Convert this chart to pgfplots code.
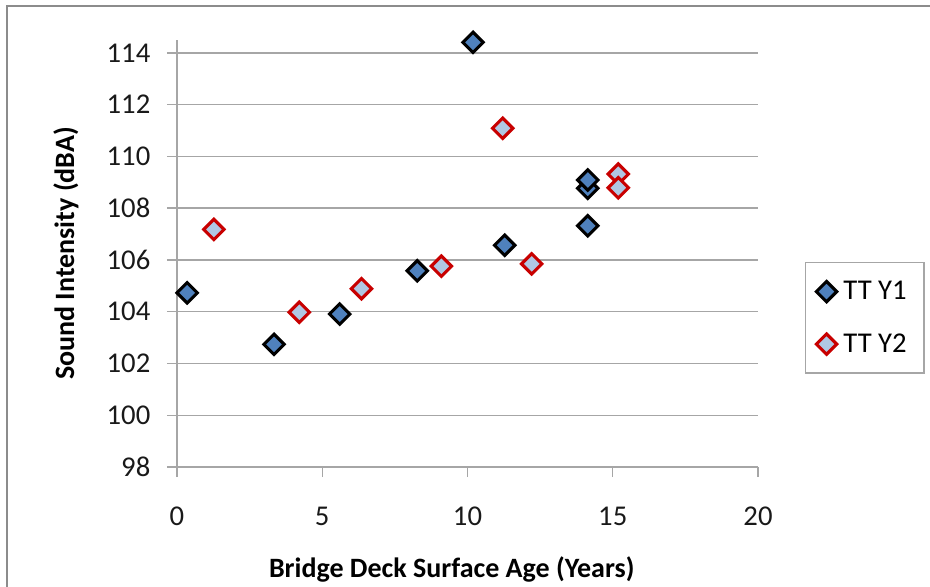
\documentclass[border=0pt]{standalone}
\usepackage{pgfplots}
\pgfplotsset{compat=1.18}
\usepackage{fontspec}
\setmainfont{Carlito}
\definecolor{gridgray}{HTML}{A6A6A6}
\definecolor{bordergray}{HTML}{8C8C8C}
\definecolor{yonefill}{HTML}{4F81BD}
\definecolor{ytwofill}{HTML}{B0C7E3}
\definecolor{ytwoline}{HTML}{C80000}
\begin{document}
\begin{tikzpicture}[x=0.75pt,y=0.75pt]
\useasboundingbox (-177,-119) rectangle (753,467);
\draw[bordergray,line width=1.5pt] (-170,-300) -- (-170,461) -- (900,461);
\begin{axis}[
  scale only axis, width=435.75pt, height=320.25pt,
  xmin=0, xmax=20, ymin=98, ymax=114.5,
  xtick={0,5,...,20}, ytick={98,100,...,114},
  axis x line*=bottom, axis y line*=left,
  ymajorgrids, grid style={gridgray,line width=1.1pt},
  axis line style={gridgray,line width=1.1pt},
  tick style={gridgray,line width=1.1pt},
  tick align=outside, major tick length=7.5pt,
  /pgf/number format/assume math mode=true,
  ticklabel style={font=\fontsize{21.5}{25}\selectfont, text=black!90},
  xticklabel style={yshift=-19pt},
  yticklabel style={xshift=-9pt},
  xlabel={\textbf{Bridge Deck Surface Age (Years)}},
  ylabel={\textbf{Sound Intensity (dBA)}},
  label style={font=\fontsize{21}{25}\selectfont},
  xlabel style={at={(axis description cs:0.473,-0.240)}, anchor=center},
  ylabel style={at={(axis description cs:-0.191,0.5)}, anchor=center},
  legend style={at={(1.081,0.480)}, anchor=north west, draw=gridgray, line width=1pt,
    font=\fontsize{21.5}{25}\selectfont, inner xsep=8pt, inner ysep=12pt, row sep=20pt,
    nodes={inner xsep=5pt}},
  legend cell align=left,
  clip=false,
]
\addplot[only marks, mark=square*, mark options={rotate=45}, mark size=5.4pt, draw=black, fill=yonefill, line width=2.3pt]
coordinates {(0.35,104.73)(3.34,102.74)(5.60,103.91)(8.27,105.58)(10.19,114.41)(11.28,106.57)(14.14,107.32)(14.14,108.77)(14.14,109.09)};
\addlegendentry{TT Y1}
\addplot[only marks, mark=square*, mark options={rotate=45}, mark size=5.4pt, draw=ytwoline, fill=ytwofill, line width=2.3pt]
coordinates {(1.27,107.18)(4.21,103.98)(6.35,104.89)(9.10,105.76)(11.21,111.09)(12.21,105.85)(15.19,109.32)(15.19,108.79)};
\addlegendentry{TT Y2}
\end{axis}
\end{tikzpicture}
\end{document}
